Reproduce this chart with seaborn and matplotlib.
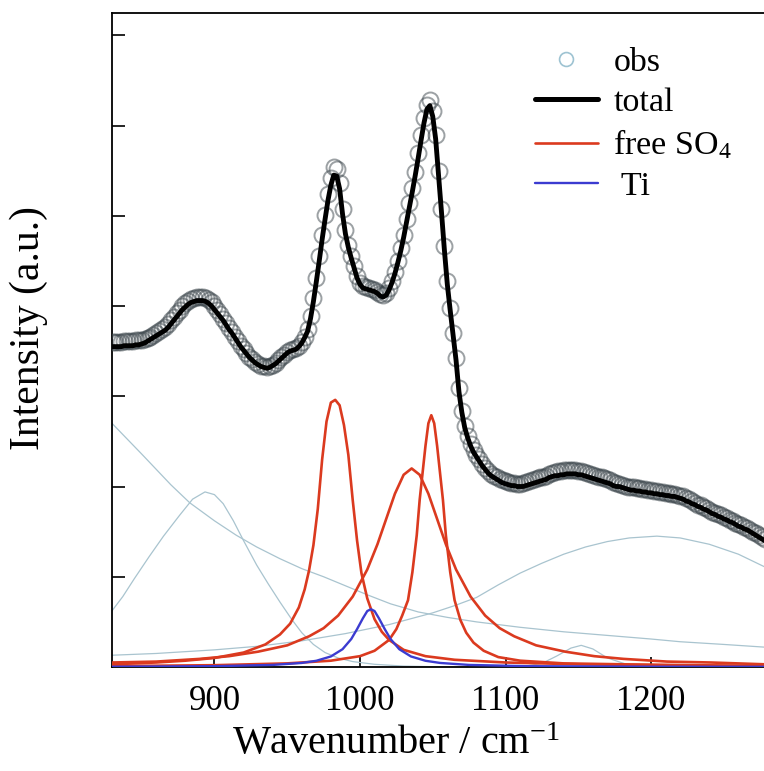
import numpy as np
import pandas as pd
import matplotlib
matplotlib.use("Agg")
import matplotlib.pyplot as plt
from matplotlib.lines import Line2D
import seaborn as sns

# ---------------- data ----------------
obs_x = np.arange(830, 1279, 2)
obs_y = [
    3.60, 3.60, 3.60, 3.60, 3.61, 3.61, 3.61, 3.61, 3.62, 3.62,
    3.62, 3.63, 3.64, 3.66, 3.68, 3.70, 3.72, 3.75, 3.77, 3.80,
    3.84, 3.88, 3.92, 3.96, 4.00, 4.03, 4.06, 4.08, 4.09, 4.10,
    4.10, 4.10, 4.09, 4.07, 4.04, 4.00, 3.96, 3.91, 3.86, 3.81,
    3.76, 3.71, 3.66, 3.61, 3.56, 3.52, 3.48, 3.44, 3.41, 3.38,
    3.36, 3.34, 3.33, 3.32, 3.33, 3.35, 3.37, 3.40, 3.43, 3.46,
    3.49, 3.51, 3.52, 3.53, 3.56, 3.60, 3.66, 3.74, 3.89, 4.09,
    4.31, 4.55, 4.79, 5.01, 5.24, 5.42, 5.54, 5.52, 5.36, 5.07,
    4.84, 4.68, 4.55, 4.44, 4.33, 4.26, 4.22, 4.21, 4.20, 4.19,
    4.18, 4.16, 4.13, 4.12, 4.14, 4.20, 4.28, 4.38, 4.50, 4.64,
    4.79, 4.96, 5.14, 5.31, 5.49, 5.69, 5.89, 6.08, 6.23, 6.28,
    6.16, 5.90, 5.50, 5.08, 4.66, 4.28, 3.98, 3.70, 3.42, 3.09,
    2.84, 2.67, 2.56, 2.47, 2.40, 2.35, 2.30, 2.25, 2.21, 2.17,
    2.14, 2.12, 2.10, 2.08, 2.07, 2.06, 2.05, 2.04, 2.04, 2.03,
    2.03, 2.04, 2.05, 2.06, 2.07, 2.08, 2.09, 2.10, 2.11, 2.12,
    2.14, 2.15, 2.16, 2.17, 2.17, 2.18, 2.18, 2.18, 2.18, 2.18,
    2.17, 2.17, 2.16, 2.15, 2.14, 2.13, 2.12, 2.11, 2.10, 2.09,
    2.08, 2.07, 2.05, 2.04, 2.03, 2.02, 2.01, 2.00, 1.99, 1.99,
    1.98, 1.98, 1.97, 1.97, 1.96, 1.96, 1.95, 1.95, 1.94, 1.94,
    1.93, 1.93, 1.92, 1.92, 1.91, 1.90, 1.89, 1.87, 1.86, 1.84,
    1.82, 1.80, 1.79, 1.77, 1.76, 1.74, 1.72, 1.71, 1.69, 1.68,
    1.66, 1.65, 1.63, 1.62, 1.60, 1.58, 1.57, 1.55, 1.54, 1.52,
    1.50, 1.48, 1.46, 1.44, 1.42,
]

total_x = np.arange(830, 1279, 2)
total_y = [
    3.55, 3.55, 3.55, 3.55, 3.56, 3.56, 3.56, 3.56, 3.57, 3.57,
    3.58, 3.59, 3.61, 3.63, 3.65, 3.67, 3.69, 3.71, 3.73, 3.76,
    3.80, 3.84, 3.88, 3.92, 3.96, 3.99, 4.02, 4.04, 4.05, 4.06,
    4.06, 4.06, 4.05, 4.03, 4.00, 3.96, 3.92, 3.88, 3.84, 3.79,
    3.74, 3.70, 3.65, 3.60, 3.55, 3.51, 3.47, 3.43, 3.40, 3.37,
    3.35, 3.33, 3.32, 3.31, 3.32, 3.34, 3.36, 3.39, 3.42, 3.45,
    3.48, 3.50, 3.51, 3.52, 3.55, 3.59, 3.65, 3.72, 3.86, 4.05,
    4.27, 4.50, 4.74, 4.96, 5.17, 5.34, 5.45, 5.44, 5.30, 5.02,
    4.80, 4.65, 4.53, 4.42, 4.31, 4.24, 4.20, 4.19, 4.18, 4.17,
    4.16, 4.14, 4.11, 4.10, 4.12, 4.18, 4.26, 4.36, 4.48, 4.61,
    4.76, 4.93, 5.10, 5.27, 5.45, 5.64, 5.84, 6.03, 6.18, 6.22,
    6.10, 5.85, 5.45, 5.04, 4.62, 4.24, 3.95, 3.68, 3.40, 3.05,
    2.82, 2.65, 2.54, 2.45, 2.38, 2.33, 2.28, 2.23, 2.19, 2.15,
    2.12, 2.10, 2.08, 2.06, 2.04, 2.03, 2.02, 2.01, 2.01, 2.00,
    2.00, 2.00, 2.01, 2.02, 2.03, 2.04, 2.05, 2.06, 2.07, 2.08,
    2.10, 2.11, 2.12, 2.12, 2.13, 2.13, 2.14, 2.14, 2.14, 2.14,
    2.13, 2.13, 2.12, 2.11, 2.10, 2.09, 2.08, 2.07, 2.06, 2.05,
    2.04, 2.03, 2.01, 2.00, 2.00, 1.99, 1.98, 1.97, 1.96, 1.96,
    1.95, 1.95, 1.94, 1.94, 1.93, 1.93, 1.92, 1.92, 1.91, 1.91,
    1.90, 1.90, 1.89, 1.89, 1.88, 1.87, 1.86, 1.84, 1.83, 1.81,
    1.80, 1.78, 1.77, 1.75, 1.74, 1.72, 1.70, 1.69, 1.67, 1.66,
    1.64, 1.63, 1.61, 1.60, 1.58, 1.56, 1.55, 1.53, 1.52, 1.50,
    1.48, 1.46, 1.44, 1.42, 1.40,
]

# free SO4 components (red)
so4a_x = [830, 860, 880, 900, 920, 935, 945, 952, 958, 962,
          965, 968, 971, 974, 977, 980, 983, 986, 989, 992,
          995, 998, 1001, 1005, 1010, 1015, 1020, 1030, 1045, 1065,
          1100, 1150, 1200, 1278]
so4a_y = [0.03, 0.05, 0.07, 0.10, 0.16, 0.25, 0.36, 0.48, 0.66, 0.86,
          1.07, 1.35, 1.75, 2.30, 2.72, 2.93, 2.96, 2.90, 2.68, 2.35,
          1.85, 1.40, 1.04, 0.76, 0.53, 0.39, 0.30, 0.19, 0.12, 0.08,
          0.05, 0.03, 0.02, 0.01]

so4b_x = [830, 900, 950, 980, 1000, 1010, 1020, 1025, 1029, 1033,
          1036, 1039, 1041, 1043, 1045, 1047, 1049, 1051, 1053, 1055,
          1057, 1059, 1062, 1065, 1069, 1073, 1078, 1085, 1095, 1110,
          1140, 1180, 1278]
so4b_y = [0.01, 0.02, 0.04, 0.07, 0.12, 0.18, 0.30, 0.42, 0.57, 0.74,
          1.05, 1.46, 1.85, 2.15, 2.45, 2.70, 2.79, 2.70, 2.45, 2.15,
          1.85, 1.46, 1.05, 0.74, 0.52, 0.38, 0.27, 0.18, 0.11, 0.07,
          0.04, 0.03, 0.01]

so4c_x = [830, 860, 890, 910, 930, 950, 965, 975, 985, 995,
          1005, 1012, 1018, 1024, 1030, 1035.5, 1041, 1047, 1053, 1059,
          1066, 1076, 1086, 1096, 1106, 1121, 1141, 1161, 1181, 1211,
          1241, 1278]
so4c_y = [0.05, 0.06, 0.09, 0.12, 0.17, 0.24, 0.34, 0.43, 0.57, 0.78,
          1.08, 1.36, 1.64, 1.92, 2.13, 2.20, 2.13, 1.92, 1.64, 1.36,
          1.08, 0.78, 0.57, 0.43, 0.34, 0.24, 0.17, 0.12, 0.09, 0.06,
          0.05, 0.03]

# Ti component (blue)
ti_x = [830, 900, 940, 960, 970, 980, 988, 994, 998, 1002,
        1005, 1007.5, 1010, 1013, 1017, 1021, 1027, 1035, 1045, 1055,
        1075, 1115, 1200, 1278]
ti_y = [0.003, 0.009, 0.023, 0.045, 0.069, 0.117, 0.197, 0.31, 0.42, 0.54,
        0.62, 0.64, 0.62, 0.54, 0.42, 0.31, 0.197, 0.117, 0.069, 0.045,
        0.023, 0.009, 0.003, 0.002]

# other fitted components (light grey-blue)
g1_x = [829, 837, 845, 855, 865, 876, 885, 893.5, 900, 906,
        913, 920, 929, 937, 945, 953, 960, 968, 976, 985,
        995, 1010, 1030, 1060, 1278]
g1_y = [0.61, 0.78, 0.98, 1.22, 1.45, 1.68, 1.86, 1.94, 1.91, 1.81,
        1.62, 1.40, 1.13, 0.92, 0.72, 0.53, 0.38, 0.25, 0.16, 0.10,
        0.06, 0.03, 0.01, 0.0, 0.0]

g2_x = [829, 850, 870, 883, 900, 915, 929, 945, 960, 975,
        990, 1005, 1021, 1040, 1060, 1080, 1110, 1140, 1170, 1200,
        1220, 1250, 1278]
g2_y = [2.71, 2.36, 2.02, 1.82, 1.62, 1.46, 1.33, 1.20, 1.09, 1.00,
        0.90, 0.80, 0.70, 0.61, 0.55, 0.50, 0.44, 0.39, 0.35, 0.31,
        0.28, 0.25, 0.22]

g3_x = [829, 860, 900, 930, 960, 990, 1020, 1050, 1065, 1080,
        1095, 1110, 1125, 1140, 1155, 1170, 1185, 1204, 1220, 1240,
        1260, 1278]
g3_y = [0.13, 0.15, 0.19, 0.23, 0.29, 0.37, 0.47, 0.60, 0.68, 0.77,
        0.91, 1.04, 1.15, 1.25, 1.33, 1.39, 1.43, 1.45, 1.43, 1.36,
        1.25, 1.11]

g4_x = [1110, 1125, 1135, 1145, 1152, 1160, 1170, 1185, 1200]
g4_y = [0.0, 0.04, 0.12, 0.21, 0.24, 0.20, 0.10, 0.02, 0.0]

x_ticks = [900, 1000, 1100, 1200]
y_ticks = [1, 2, 3, 4, 5, 6, 7]

# ---------------- style ----------------
sns.set_theme(style="ticks")
plt.rcParams["font.family"] = ["Liberation Serif", "DejaVu Serif"]
plt.rcParams["mathtext.fontset"] = "custom"
plt.rcParams["mathtext.rm"] = "Liberation Serif"
plt.rcParams["mathtext.it"] = "Liberation Serif:italic"
plt.rcParams["text.color"] = "black"
plt.rcParams["axes.labelcolor"] = "black"
plt.rcParams["xtick.color"] = "black"
plt.rcParams["ytick.color"] = "black"

GREY = "#a9c4cf"
RED = "#db3a1f"
BLUE = "#3b3bd0"

W, H = 764, 771
fig = plt.figure(figsize=(W / 100, H / 100), dpi=100)
ax = fig.add_axes([111.7 / W, (H - 667) / H, (W - 111.7) / W, (667 - 12.7) / H])

for gx, gy in [(g1_x, g1_y), (g2_x, g2_y), (g3_x, g3_y), (g4_x, g4_y)]:
    sns.lineplot(x=gx, y=gy, ax=ax, color=GREY, lw=0.9, estimator=None, zorder=2)

for rx, ry in [(so4a_x, so4a_y), (so4b_x, so4b_y), (so4c_x, so4c_y)]:
    sns.lineplot(x=rx, y=ry, ax=ax, color=RED, lw=1.9, estimator=None, zorder=3)

sns.lineplot(x=ti_x, y=ti_y, ax=ax, color=BLUE, lw=1.7, estimator=None, zorder=4)

sns.lineplot(x=obs_x, y=obs_y, ax=ax, estimator=None, linestyle="none",
             marker="o", markersize=11.5, markerfacecolor="none",
             markeredgecolor="#3a444a", markeredgewidth=1.4, alpha=0.5,
             color="#3a444a", zorder=5)

sns.lineplot(x=total_x, y=total_y, ax=ax, color="black", lw=3.5,
             estimator=None, zorder=6)

ax.set_xlim(829.4, 1277.6)
ax.set_ylim(0, 7.25)
ax.set_xticks(x_ticks)
ax.set_xticklabels([str(t) for t in x_ticks])
ax.set_yticks(y_ticks)
ax.set_yticklabels([])
ax.tick_params(axis="both", direction="in", width=1.2, color="black",
               labelcolor="black", top=False, right=False)
ax.tick_params(axis="x", length=7, labelsize=25, pad=13)
ax.tick_params(axis="y", length=9)
for s in ["left", "top", "bottom"]:
    ax.spines[s].set_color("black")
    ax.spines[s].set_linewidth(1.3)
ax.spines["right"].set_visible(False)
ax.grid(False)

ax.set_xlabel("Wavenumber / cm$^{-1}$", fontsize=29, color="black")
ax.xaxis.set_label_coords(0.436, -0.090)
ax.set_ylabel("Intensity (a.u.)", fontsize=30, color="black")
ax.yaxis.set_label_coords(-0.098, 0.518)

handles = [
    Line2D([], [], ls="none", marker="o", ms=10, mfc="none", mec="#9ec3d2",
           mew=1.2, label="obs"),
    Line2D([], [], color="black", lw=3.6, label="total"),
    Line2D([], [], color=RED, lw=1.9, label="free SO$_4$"),
    Line2D([], [], color=BLUE, lw=1.7, label=" Ti"),
]
leg = fig.legend(handles=handles, loc="upper left",
                 bbox_to_anchor=(535 / W, 1 - 47 / H), bbox_transform=fig.transFigure,
                 frameon=False, fontsize=24.5, handlelength=1.85, handletextpad=0.45,
                 labelspacing=0.28, borderpad=0, borderaxespad=0)
for t in leg.get_texts():
    t.set_color("black")

fig.savefig("out.png", dpi=100)
